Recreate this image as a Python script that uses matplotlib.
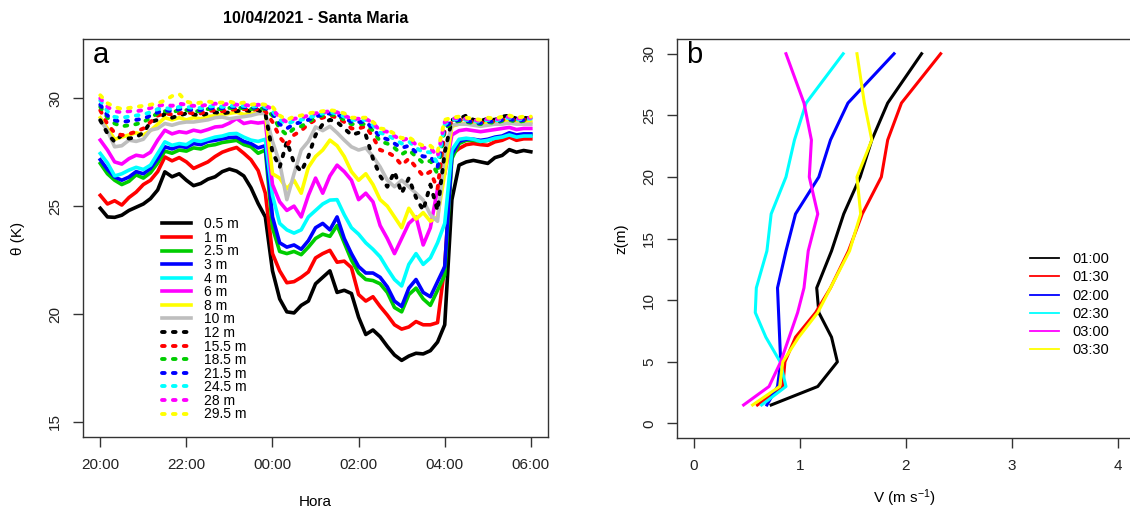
import numpy as np
import pandas as pd
import matplotlib
matplotlib.use("Agg")
import matplotlib.pyplot as plt
import matplotlib.dates as mdates

plt.rcParams['font.family'] = ['Liberation Sans', 'DejaVu Sans']
plt.rcParams['mathtext.default'] = 'regular'

# ---- panel a: potential temperature at each level, 10-min means ----
hora = pd.date_range('2021-04-10 20:00', '2021-04-11 06:00', freq='10min')

th_0_5 = [24.90, 24.50, 24.48, 24.58, 24.80, 24.95, 25.10, 25.35, 25.75, 26.59, 26.36, 26.50,
          26.20, 25.95, 26.05, 26.25, 26.36, 26.60, 26.72, 26.62, 26.40, 25.85, 25.12, 24.50,
          22.00, 20.70, 20.10, 20.05, 20.40, 20.60, 21.40, 21.70, 22.00, 21.00, 21.10, 20.95,
          19.85, 19.05, 19.26, 18.95, 18.50, 18.10, 17.85, 18.05, 18.18, 18.15, 18.30, 18.70,
          19.50, 25.30, 26.90, 27.05, 27.12, 27.05, 26.98, 27.25, 27.35, 27.62, 27.50, 27.58, 27.52]
th_1 = [25.50, 25.10, 25.25, 25.05, 25.40, 25.65, 26.00, 26.20, 26.60, 27.28, 27.10, 27.25,
        27.05, 26.75, 26.90, 27.05, 27.30, 27.50, 27.62, 27.72, 27.45, 27.15, 26.65, 25.60,
        22.80, 22.00, 21.45, 21.50, 21.70, 21.95, 22.60, 22.80, 22.95, 22.40, 22.45, 22.15,
        20.90, 20.60, 20.80, 20.35, 19.95, 19.50, 19.30, 19.40, 19.65, 19.50, 19.50, 19.60,
        22.20, 27.40, 27.67, 27.85, 27.90, 27.85, 27.82, 27.98, 28.05, 28.20, 28.05, 28.12, 28.12]
th_2_5 = [26.98, 26.50, 26.20, 26.00, 26.15, 26.45, 26.30, 26.55, 27.00, 27.55, 27.45, 27.60,
          27.55, 27.70, 27.65, 27.80, 27.85, 27.95, 28.00, 28.05, 27.85, 27.75, 27.45, 27.60,
          24.00, 22.90, 22.80, 22.90, 22.75, 23.10, 23.50, 23.70, 23.60, 24.10, 23.30, 22.50,
          21.90, 21.60, 21.55, 21.40, 21.00, 20.30, 20.10, 20.90, 21.20, 20.70, 20.40, 21.10,
          21.80, 27.20, 27.90, 28.05, 28.05, 28.00, 28.05, 28.15, 28.20, 28.35, 28.25, 28.30, 28.30]
th_3 = [27.15, 26.70, 26.35, 26.20, 26.35, 26.60, 26.50, 26.75, 27.20, 27.75, 27.65, 27.78,
        27.72, 27.90, 27.85, 28.00, 28.05, 28.12, 28.18, 28.20, 28.00, 27.90, 27.70, 27.80,
        24.50, 23.30, 23.10, 23.20, 23.00, 23.40, 24.00, 24.20, 23.90, 24.50, 23.50, 22.80,
        22.20, 21.90, 21.90, 21.70, 21.26, 20.60, 20.35, 21.20, 21.60, 21.00, 20.80, 21.50,
        22.20, 27.40, 28.00, 28.10, 28.10, 28.05, 28.10, 28.20, 28.25, 28.40, 28.30, 28.35, 28.35]
th_4 = [27.44, 27.00, 26.40, 26.50, 26.67, 26.80, 26.70, 26.90, 27.44, 27.98, 27.82, 27.90,
        27.85, 28.06, 28.00, 28.10, 28.20, 28.25, 28.35, 28.37, 28.20, 28.06, 28.00, 28.10,
        25.50, 24.20, 23.90, 23.75, 23.90, 24.50, 24.80, 25.10, 25.28, 25.30, 24.60, 24.00,
        23.70, 23.30, 23.00, 22.65, 22.10, 21.60, 21.30, 22.30, 22.80, 22.30, 22.60, 23.30,
        24.20, 27.60, 28.10, 28.15, 28.10, 28.00, 28.05, 28.15, 28.20, 28.30, 28.20, 28.25, 28.25]
th_6 = [28.06, 27.60, 27.05, 26.95, 27.20, 27.36, 27.30, 27.50, 28.06, 28.52, 28.35, 28.45,
        28.40, 28.52, 28.45, 28.55, 28.67, 28.70, 28.85, 29.06, 28.83, 28.90, 28.85, 28.90,
        26.00, 25.20, 24.80, 25.00, 24.50, 25.50, 26.30, 25.60, 26.40, 26.90, 26.60, 26.20,
        25.30, 25.60, 25.20, 24.10, 23.50, 22.80, 23.50, 24.20, 24.50, 23.20, 24.00, 25.80,
        26.50, 28.30, 28.50, 28.55, 28.50, 28.45, 28.50, 28.55, 28.60, 28.65, 28.55, 28.60, 28.60]
th_8 = [29.10, 28.60, 28.10, 28.20, 28.30, 28.40, 28.30, 28.50, 28.80, 29.10, 29.00, 29.10,
        29.00, 29.10, 29.05, 29.15, 29.20, 29.25, 29.30, 29.35, 29.25, 29.30, 29.30, 29.35,
        26.50, 26.30, 25.80, 26.20, 25.60, 26.80, 27.30, 27.60, 28.06, 27.80, 27.30, 26.60,
        26.20, 26.50, 26.00, 25.30, 25.00, 24.50, 24.00, 24.90, 24.40, 24.70, 24.30, 24.50,
        26.50, 28.70, 28.80, 28.85, 28.80, 28.80, 28.85, 28.90, 28.90, 28.95, 28.90, 28.90, 28.90]
th_10 = [28.98, 28.50, 27.75, 27.80, 28.06, 28.00, 28.10, 28.52, 28.60, 28.83, 28.75, 28.85,
         28.90, 28.90, 28.95, 29.00, 29.10, 29.13, 29.05, 29.10, 29.15, 29.20, 29.29, 29.30,
         28.00, 27.00, 25.30, 26.50, 27.60, 28.00, 28.67, 28.50, 28.70, 28.40, 28.06, 27.75,
         27.60, 27.70, 27.30, 26.82, 26.20, 25.90, 26.20, 25.90, 25.60, 25.28, 24.60, 24.30,
         27.50, 28.75, 28.80, 28.80, 28.75, 28.70, 28.75, 28.80, 28.80, 28.85, 28.80, 28.80, 28.80]
th_12 = [28.98, 28.37, 27.98, 28.30, 28.13, 28.20, 28.40, 28.90, 29.00, 29.29, 29.10, 29.20,
         29.30, 29.25, 29.20, 29.30, 29.35, 29.30, 29.35, 29.40, 29.45, 29.40, 29.45, 29.30,
         27.50, 26.80, 28.00, 27.00, 26.60, 27.30, 28.30, 28.80, 29.00, 28.90, 28.60, 28.30,
         28.40, 28.30, 27.20, 26.40, 25.90, 26.60, 25.60, 26.30, 25.40, 24.80, 26.00, 24.80,
         27.50, 29.00, 29.05, 29.20, 29.00, 28.95, 29.05, 29.00, 29.15, 29.20, 29.05, 29.10, 29.05]
th_15_5 = [29.44, 28.80, 28.40, 28.29, 28.35, 28.45, 28.60, 28.90, 29.20, 29.30, 29.25, 29.30,
           29.35, 29.30, 29.30, 29.40, 29.45, 29.40, 29.45, 29.50, 29.50, 29.45, 29.50, 29.40,
           28.90, 28.20, 27.80, 28.30, 28.50, 28.80, 29.00, 29.10, 29.20, 29.10, 28.90, 28.60,
           28.60, 28.70, 28.20, 27.60, 27.50, 27.30, 26.90, 27.20, 26.80, 26.40, 26.60, 25.80,
           28.50, 28.90, 29.00, 28.95, 28.90, 28.85, 28.95, 28.90, 29.00, 29.05, 28.95, 29.00, 29.00]
th_18_5 = [29.60, 29.10, 28.83, 28.70, 28.75, 28.80, 28.90, 29.10, 29.30, 29.40, 29.35, 29.45,
           29.45, 29.40, 29.40, 29.50, 29.50, 29.50, 29.55, 29.55, 29.55, 29.50, 29.55, 29.50,
           29.20, 28.60, 28.30, 28.60, 28.70, 28.90, 29.10, 29.20, 29.25, 29.20, 29.00, 28.80,
           28.80, 28.80, 28.50, 28.00, 27.90, 27.70, 27.40, 27.60, 27.30, 27.00, 27.10, 26.50,
           28.60, 28.85, 28.95, 28.90, 28.85, 28.80, 28.90, 28.85, 28.95, 29.00, 28.90, 28.95, 28.95]
th_21_5 = [29.70, 29.20, 28.98, 28.90, 28.95, 29.00, 29.05, 29.20, 29.35, 29.45, 29.40, 29.50,
           29.50, 29.45, 29.45, 29.55, 29.55, 29.55, 29.60, 29.60, 29.60, 29.55, 29.60, 29.55,
           29.30, 28.80, 28.60, 28.80, 28.90, 29.00, 29.15, 29.25, 29.30, 29.25, 29.10, 28.90,
           28.90, 28.90, 28.60, 28.20, 28.10, 27.90, 27.70, 27.80, 27.50, 27.30, 27.30, 26.80,
           28.70, 28.90, 29.00, 28.95, 28.90, 28.85, 28.95, 28.90, 29.00, 29.05, 28.95, 29.00, 29.00]
th_24_5 = [29.90, 29.40, 29.13, 29.10, 29.15, 29.20, 29.25, 29.35, 29.50, 29.55, 29.50, 29.60,
           29.60, 29.55, 29.55, 29.60, 29.65, 29.60, 29.65, 29.65, 29.65, 29.60, 29.65, 29.60,
           29.40, 29.00, 28.80, 28.95, 29.00, 29.10, 29.20, 29.30, 29.35, 29.30, 29.15, 29.00,
           29.00, 29.00, 28.75, 28.40, 28.30, 28.10, 27.90, 28.00, 27.70, 27.50, 27.50, 27.00,
           28.80, 29.00, 29.05, 29.00, 28.95, 28.90, 29.00, 28.95, 29.05, 29.10, 29.00, 29.05, 29.05]
th_28 = [30.00, 29.60, 29.40, 29.35, 29.40, 29.40, 29.45, 29.55, 29.65, 29.70, 29.65, 29.75,
         29.70, 29.65, 29.65, 29.70, 29.75, 29.70, 29.75, 29.70, 29.70, 29.65, 29.70, 29.65,
         29.50, 29.10, 28.90, 29.05, 29.10, 29.20, 29.30, 29.35, 29.40, 29.35, 29.20, 29.05,
         29.05, 29.05, 28.85, 28.50, 28.45, 28.25, 28.05, 28.15, 27.85, 27.70, 27.70, 27.30,
         28.90, 29.05, 29.10, 29.05, 29.00, 28.95, 29.05, 29.00, 29.10, 29.15, 29.05, 29.10, 29.10]
th_29_5 = [30.14, 29.77, 29.60, 29.50, 29.55, 29.60, 29.65, 29.70, 29.77, 29.90, 30.10, 30.20,
           29.85, 29.75, 29.80, 29.85, 29.80, 29.80, 29.85, 29.75, 29.80, 29.70, 29.75, 29.70,
           29.60, 29.20, 29.00, 29.15, 29.20, 29.30, 29.35, 29.40, 29.45, 29.40, 29.30, 29.10,
           29.10, 29.10, 28.90, 28.60, 28.55, 28.35, 28.15, 28.20, 27.95, 27.80, 27.80, 27.50,
           29.00, 29.10, 29.15, 29.10, 29.05, 29.00, 29.10, 29.05, 29.15, 29.20, 29.10, 29.15, 29.15]

niveis = ['0.5 m', '1 m', '2.5 m', '3 m', '4 m', '6 m', '8 m', '10 m',
          '12 m', '15.5 m', '18.5 m', '21.5 m', '24.5 m', '28 m', '29.5 m']
series_theta = [th_0_5, th_1, th_2_5, th_3, th_4, th_6, th_8, th_10,
                th_12, th_15_5, th_18_5, th_21_5, th_24_5, th_28, th_29_5]

# ---- panel b: wind speed profiles ----
z = [1.5, 3, 5, 7, 9, 11, 14, 17, 20, 23, 26, 30]
v_0100 = [0.73, 1.17, 1.355, 1.30, 1.18, 1.16, 1.30, 1.415, 1.57, 1.68, 1.83, 2.15]
v_0130 = [0.60, 0.84, 0.86, 0.96, 1.15, 1.29, 1.46, 1.59, 1.77, 1.83, 1.96, 2.33]
v_0200 = [0.69, 0.79, 0.82, 0.81, 0.80, 0.79, 0.87, 0.96, 1.18, 1.29, 1.455, 1.89]
v_0230 = [0.64, 0.87, 0.815, 0.68, 0.58, 0.59, 0.69, 0.73, 0.87, 0.95, 1.06, 1.41]
v_0300 = [0.47, 0.71, 0.82, 0.90, 0.98, 1.04, 1.08, 1.17, 1.09, 1.11, 1.04, 0.87]
v_0330 = [0.555, 0.81, 0.84, 0.99, 1.17, 1.29, 1.47, 1.575, 1.54, 1.68, 1.61, 1.54]

horarios = ['01:00', '01:30', '02:00', '02:30', '03:00', '03:30']
perfis = [v_0100, v_0130, v_0200, v_0230, v_0300, v_0330]

cores = ['black', '#FF0000', '#00CD00', '#0000FF', '#00FFFF', '#FF00FF', '#FFFF00', '#BEBEBE']
cores_b = ['black', '#FF0000', '#0000FF', '#00FFFF', '#FF00FF', '#FFFF00']

fig = plt.figure(figsize=(11.3, 5.09), dpi=100)
ax1 = fig.add_axes([0.0735, 0.1415, 0.4115, 0.782])
ax2 = fig.add_axes([0.599, 0.139, 0.405, 0.7845])

# solid lines for the lower 8 levels, dotted for the upper 7 (same colour cycle)
for i, (nome, th) in enumerate(zip(niveis, series_theta)):
    if i < 8:
        ax1.plot(hora, th, color=cores[i], lw=2.6, label=nome)
    else:
        ax1.plot(hora, th, color=cores[i - 8], lw=2.8, label=nome,
                 linestyle=(0, (0.7, 2.1)), dash_capstyle='round')

t0 = pd.Timestamp('2021-04-10 20:00')
t1 = pd.Timestamp('2021-04-11 06:00')
pad = (t1 - t0) * 0.04
ax1.set_xlim(t0 - pad, t1 + pad)
ax1.set_ylim(14.3, 32.75)
ax1.set_yticks([15, 20, 25, 30])
ax1.xaxis.set_major_locator(mdates.HourLocator(byhour=range(0, 24, 2)))
ax1.xaxis.set_major_formatter(mdates.DateFormatter('%H:%M'))
ax1.set_xlabel('Hora', fontsize=11)
ax1.xaxis.set_label_coords(0.5, -0.145)
ax1.set_ylabel('θ (K)', fontsize=11)
ax1.yaxis.set_label_coords(-0.125, 0.5)
ax1.set_title('10/04/2021 - Santa Maria', fontsize=11.5, fontweight='bold', pad=11.5)
ax1.text(0.02, 0.96, 'a', transform=ax1.transAxes, fontsize=21, va='center', ha='left')
ax1.legend(loc='upper left', bbox_to_anchor=(0.17, 0.552), frameon=False, fontsize=10,
           handlelength=2.1, handletextpad=0.95, labelspacing=-0.03, borderpad=0,
           borderaxespad=0)

for nome, v, cor in zip(horarios, perfis, cores_b):
    ax2.plot(v, z, color=cor, lw=2.2, label=nome)

ax2.set_xlim(-0.16, 4.16)
ax2.set_ylim(-1.2, 31.2)
ax2.set_xticks([0, 1, 2, 3, 4])
ax2.set_yticks([0, 5, 10, 15, 20, 25, 30])
ax2.set_xlabel('V (m s$^{-1}$)', fontsize=11)
ax2.xaxis.set_label_coords(0.498, -0.123)
ax2.set_ylabel('z(m)', fontsize=11)
ax2.yaxis.set_label_coords(-0.107, 0.5)
ax2.text(0.02, 0.96, 'b', transform=ax2.transAxes, fontsize=21, va='center', ha='left')
leg = ax2.legend(loc='upper left', bbox_to_anchor=(0.772, 0.466), frameon=False, fontsize=10.5,
                 handlelength=2.0, handletextpad=0.9, labelspacing=0.29, borderpad=0,
                 borderaxespad=0)
for h in leg.get_lines():
    h.set_linewidth(1.3)

for ax in (ax1, ax2):
    for s in ax.spines.values():
        s.set_color('#333333')
        s.set_linewidth(1.0)
    ax.tick_params(axis='both', direction='out', length=7, width=1.0, color='#333333',
                   labelsize=11, labelcolor='#222222', pad=8)
    ax.tick_params(axis='y', labelrotation=90)
    for lab in ax.get_yticklabels():
        lab.set_va('center')

fig.savefig('out.png', dpi=100)
